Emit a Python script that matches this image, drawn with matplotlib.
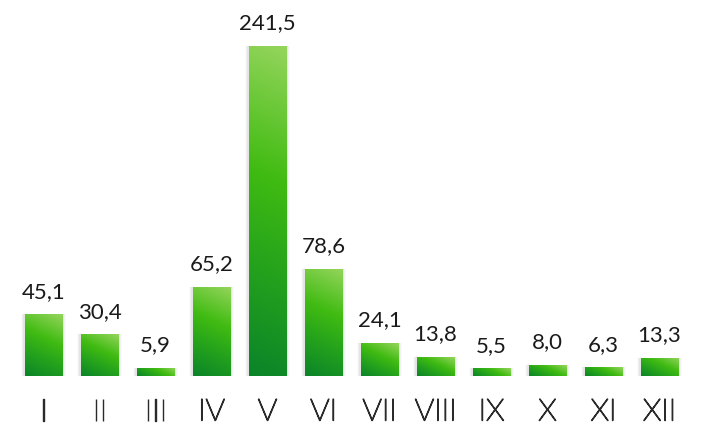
import numpy as np
import matplotlib
matplotlib.use("Agg")
import matplotlib.pyplot as plt
import matplotlib.patheffects as pe
from matplotlib.colors import LinearSegmentedColormap
from matplotlib.patches import Rectangle

months = ["I", "II", "III", "IV", "V", "VI", "VII", "VIII", "IX", "X", "XI", "XII"]
values = [45.1, 30.4, 5.9, 65.2, 241.5, 78.6, 24.1, 13.8, 5.5, 8.0, 6.3, 13.3]
labels = ["45,1", "30,4", "5,9", "65,2", "241,5", "78,6", "24,1", "13,8", "5,5", "8,0", "6,3", "13,3"]

plt.rcParams['font.family'] = ['Lato', 'DejaVu Sans']

green = LinearSegmentedColormap.from_list(
    "grn", [(0.0, "#0b8429"), (0.3, "#22a01d"), (0.6, "#40bb12"), (1.0, "#95d55c")])

W, H = 701, 430
fig = plt.figure(figsize=(W / 100, H / 100), dpi=100)
# axes spans from the bar baseline (376 px from top) to the top edge
ax = fig.add_axes([0, 54 / H, 1, (H - 54) / H])
step = 56.0      # px per bar slot
ypx = 1.367      # px per unit
x0 = -43.5 / step
ax.axis("off")

bw = 0.67
ang = np.deg2rad(25)  # css-like gradient angle, towards top right

for i, v in enumerate(values):
    left = i - bw / 2
    # soft shadow
    for k, a in enumerate([0.05, 0.035, 0.02]):
        d = 0.025 * (k + 1)
        ax.add_patch(Rectangle((left - d, -1.2 * (k + 1)), bw + 2 * d, v + 1.2 * (k + 1),
                               facecolor="#000000", alpha=a, edgecolor="none", zorder=1))
    # gradient in pixel space
    wp, hp = bw * step, v * ypx
    gy, gx = np.mgrid[0:hp:200j, 0:wp:60j]
    t = (gx * np.sin(ang) + gy * np.cos(ang)) / (wp * np.sin(ang) + hp * np.cos(ang))
    bar = Rectangle((left, 0), bw, v, facecolor="none", edgecolor="none", zorder=2)
    ax.add_patch(bar)
    im = ax.imshow(t, cmap=green, vmin=0, vmax=1, origin="lower", aspect="auto",
                   extent=(left, left + bw, 0, v), zorder=2, interpolation="bilinear")
    im.set_clip_path(bar)
    ax.annotate(labels[i], (i, v), xytext=(0, 12), textcoords="offset points",
                ha="center", va="baseline", fontsize=16, color="#1a1a1a")
    # thin month labels: light face thickened a bit with a stroke
    ax.text(i, -36 / ypx, months[i], ha="center", va="center",
            fontsize=22, fontweight="light", color="#2a2a2a",
            path_effects=[pe.withStroke(linewidth=1.0, foreground="#2a2a2a")])

ax.set_xlim(x0, x0 + W / step)
ax.set_ylim(0, (H - 54) / ypx)
fig.savefig("out.png", dpi=100)
